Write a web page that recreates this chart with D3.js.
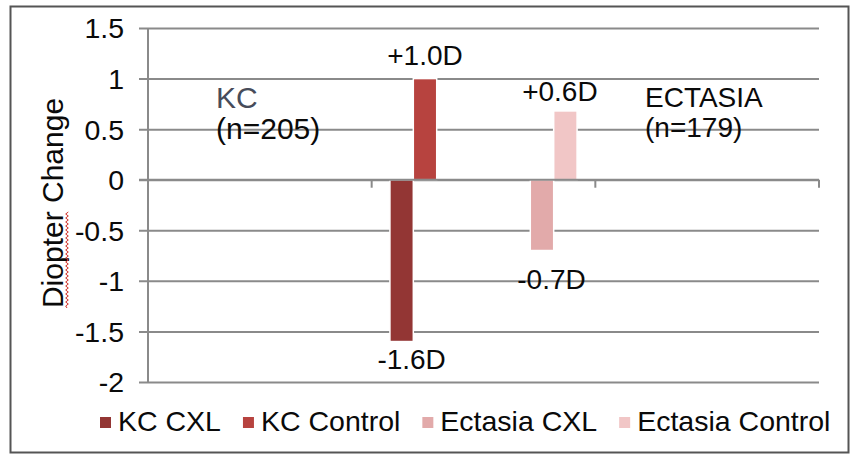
<!DOCTYPE html>
<html>
<head>
<meta charset="utf-8">
<script src="https://cdn.jsdelivr.net/npm/d3@7"></script>
<style>
  html, body { margin: 0; padding: 0; background: #fff; }
  svg { display: block; }
  text { font-family: "Liberation Sans", Arial, Helvetica, sans-serif; fill: #0a0a0a; }
</style>
</head>
<body>
<svg id="chart" width="851" height="461"></svg>
<script>
// ---- data ----
const categories = ["A", "B", "C"];          // three category bands on the x axis
const barCategory = "B";                      // all bars sit in the middle band
const seriesNames = ["KC CXL", "KC Control", "Ectasia CXL", "Ectasia Control"];
const seriesValues = [-1.6, 1.0, -0.7, 0.68];
const seriesColors = ["#933634", "#b7433f", "#e2aaaa", "#f1c6c6"];
const valueLabels = ["-1.6D", "+1.0D", "-0.7D", "+0.6D"];
const seriesSlots = ["KC CXL", "KC Control", "gap1", "gap2", "gap3", "gap4", "Ectasia CXL", "Ectasia Control"];
const yTicks = [-2, -1.5, -1, -0.5, 0, 0.5, 1, 1.5];
const yTickLabels = ["-2", "-1.5", "-1", "-0.5", "0", "0.5", "1", "1.5"];
const groupNames = ["KC", "ECTASIA"];
const groupCounts = ["(n=205)", "(n=179)"];
const yTitle = "Diopter Change";

// ---- layout ----
const svg = d3.select("#chart");
const plot = { left: 148, right: 819, top: 28, bottom: 382 };
const FS = 28;

svg.append("rect").attr("x", 10.5).attr("y", 6.5).attr("width", 838).attr("height", 446)
  .attr("fill", "#fff").attr("stroke", "#555").attr("stroke-width", 2);

const y = d3.scaleLinear().domain([-2, 1.5]).range([plot.bottom, plot.top]);
const x0 = d3.scaleBand().domain(categories).range([plot.left, plot.right]).padding(0);
const x1 = d3.scaleBand().domain(seriesSlots).range([0, x0.bandwidth()])
  .paddingInner(0).paddingOuter(0.78);

const gridColor = "#8a8a8a";

// gridlines + tick labels via d3 axis
const yAxis = d3.axisLeft(y).tickValues(yTicks)
  .tickSize(-(plot.right - plot.left + 9))
  .tickFormat(d => yTickLabels[yTicks.indexOf(d)]);
const gy = svg.append("g").attr("transform", `translate(${plot.left - 9},0)`).call(yAxis);
gy.select(".domain").remove();
gy.selectAll(".tick line").attr("stroke", gridColor).attr("stroke-width", 2);
gy.selectAll(".tick text")
  .attr("x", -15).attr("dy", "0.35em")
  .style("font-size", "28.5px").style("font-family", '"Liberation Sans", Arial, sans-serif')
  .attr("fill", "#0a0a0a");

// y axis line
svg.append("line").attr("x1", plot.left).attr("x2", plot.left)
  .attr("y1", plot.top).attr("y2", plot.bottom)
  .attr("stroke", gridColor).attr("stroke-width", 2);

// bars
const barData = seriesNames.map((n, i) => ({ name: n, value: seriesValues[i], color: seriesColors[i], label: valueLabels[i] }));
svg.append("g").selectAll("rect").data(barData).join("rect")
  .attr("x", d => x0(barCategory) + x1(d.name))
  .attr("width", x1.bandwidth())
  .attr("y", d => y(Math.max(0, d.value)))
  .attr("height", d => Math.abs(y(d.value) - y(0)))
  .attr("fill", d => d.color)
  .attr("stroke", "#fff").attr("stroke-width", 1.5);

// zero axis with category tick marks
svg.append("line").attr("x1", plot.left - 9).attr("x2", plot.right)
  .attr("y1", y(0)).attr("y2", y(0)).attr("stroke", gridColor).attr("stroke-width", 2);
const bounds = categories.map(c => x0(c) + x0.bandwidth());
svg.selectAll(".ctick").data(bounds).join("line").attr("class", "ctick")
  .attr("x1", d => d).attr("x2", d => d)
  .attr("y1", y(0)).attr("y2", y(0) + 8)
  .attr("stroke", gridColor).attr("stroke-width", 2);

// value labels
const labelOffset = [{ dx: 10, dy: 27 }, { dx: 0, dy: -14 }, { dx: 9.5, dy: 38 }, { dx: -5.5, dy: -10 }];
svg.selectAll(".vlabel").data(barData).join("text").attr("class", "vlabel")
  .attr("x", (d, i) => x0(barCategory) + x1(d.name) + x1.bandwidth() / 2 + labelOffset[i].dx)
  .attr("y", (d, i) => y(d.value) + labelOffset[i].dy)
  .attr("text-anchor", "middle")
  .style("font-size", FS + "px")
  .text(d => d.label);

// group annotations
const groupPos = [
  { x: 216, y1: 108, y2: 139, color: "#474c5a", fs: 30 },
  { x: 645, y1: 107, y2: 137, color: "#0a0a0a", fs: 28 }
];
groupNames.forEach((g, i) => {
  svg.append("text").attr("x", groupPos[i].x).attr("y", groupPos[i].y1)
    .style("font-size", groupPos[i].fs + "px").style("fill", groupPos[i].color).text(g);
  svg.append("text").attr("x", groupPos[i].x).attr("y", groupPos[i].y2)
    .style("font-size", groupPos[i].fs + "px").text(groupCounts[i]);
});

// y title
svg.append("text")
  .attr("transform", `translate(63,203) rotate(-90)`)
  .attr("text-anchor", "middle")
  .style("font-size", "30px")
  .text(yTitle);

// spell-check squiggle under "Diopter"
(function () {
  const x = 67, ya = 213, yb = 308;
  let p = `M${x},${yb}`;
  let k = 0;
  for (let yy = yb; yy > ya; yy -= 2) { p += ` L${x + (k % 2 ? 1.3 : -1.3)},${yy - 2}`; k++; }
  svg.append("path").attr("d", p).attr("fill", "none").attr("stroke", "#d0302a").attr("stroke-width", 1);
})();

// legend
const lg = svg.append("g");
let lx = 100;
const ly = 431;
barData.forEach((d, i) => {
  lg.append("rect").attr("x", lx).attr("y", ly - 14).attr("width", 11).attr("height", 11).attr("fill", d.color);
  const t = lg.append("text").attr("x", lx + 18).attr("y", ly).style("font-size", "28.5px").text(d.name);
  lx += 18 + t.node().getComputedTextLength() + 22;
});
</script>
</body>
</html>
